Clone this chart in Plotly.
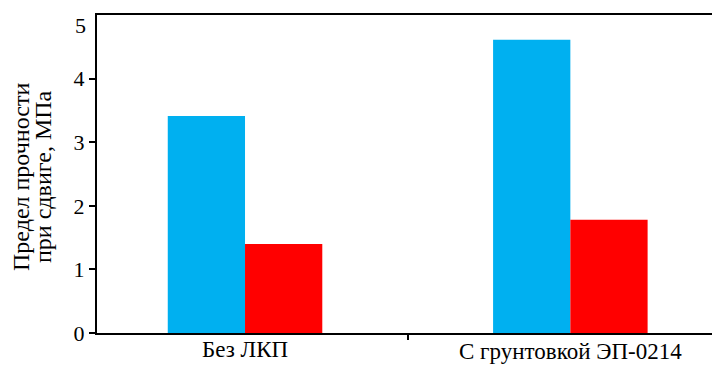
import plotly.graph_objects as go

categories = ["Без ЛКП", "С грунтовкой ЭП-0214"]
category_font_sizes = [23, 23]
category_label_offsets = [-16, -18]
series_a = [3.41, 4.61]
series_b = [1.40, 1.78]
y_ticks = [0, 1, 2, 3, 4]
top_label = "5"
title_lines = ["Предел прочности", "при сдвиге, МПа"]

fig = go.Figure()
fig.add_trace(go.Bar(x=categories, y=series_a, marker=dict(color="#00B0F0", line=dict(width=0)), showlegend=False))
fig.add_trace(go.Bar(x=categories, y=series_b, marker=dict(color="#FF0000", line=dict(width=0)), showlegend=False))

font_family = "Liberation Serif"
fig.update_layout(
    width=712, height=357,
    margin=dict(l=89, r=0, t=7, b=32, autoexpand=False),
    paper_bgcolor="white", plot_bgcolor="white",
    barmode="group", bargap=0.525, bargroupgap=0,
    font=dict(family=font_family, color="black"),
)
fig.update_xaxes(
    type="category", range=[-0.455, 1.46],
    showline=True, linecolor="black", linewidth=2, mirror=True,
    ticks="outside", ticklen=5, tickwidth=1.5, tickcolor="black", tickson="boundaries",
    showgrid=False, showticklabels=False,
)
fig.update_yaxes(
    range=[0, 5], tickvals=y_ticks,
    showline=True, linecolor="black", linewidth=2, mirror=False,
    ticks="outside", ticklen=6, tickwidth=1.5, tickcolor="black",
    showgrid=False, zeroline=False, tickfont=dict(size=22, family=font_family),
)
for cat, fs, off in zip(categories, category_font_sizes, category_label_offsets):
    fig.add_annotation(
        text=cat, xref="x", yref="paper", x=cat, y=0, xanchor="center", yanchor="middle",
        yshift=off, showarrow=False, font=dict(size=fs, family=font_family, color="black"),
    )
fig.add_annotation(
    text=top_label, xref="paper", yref="y", x=0, y=5, xanchor="right", yanchor="middle",
    xshift=-9, yshift=-10, showarrow=False, font=dict(size=22, family=font_family, color="black"),
)
for line, xs in zip(title_lines, [-76, -54]):
    fig.add_annotation(
        text=line, xref="paper", yref="paper", x=0, y=0.5, xanchor="center", yanchor="middle",
        xshift=xs, yshift=-3, textangle=-90, showarrow=False,
        font=dict(size=24, family=font_family, color="black"),
    )
fig.write_html("out.html")
